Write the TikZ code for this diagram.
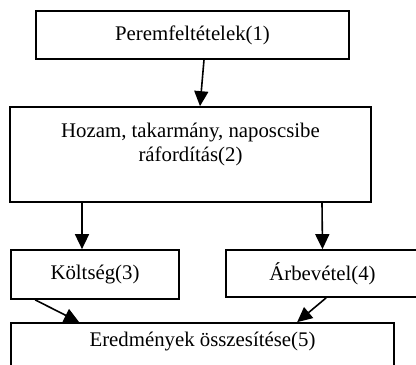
\documentclass[tikz,border=0pt]{standalone}
\usepackage{fontspec}
\setmainfont{Liberation Serif}
\usetikzlibrary{arrows.meta}
\begin{document}
\begin{tikzpicture}[x=1pt,y=-1pt,
  box/.style={draw,line width=1.7pt,inner sep=0pt},
  lbl/.style={inner sep=0pt,font=\fontsize{20.8}{23.5}\selectfont,align=center},
  arr/.style={line width=1.6pt,-{Triangle[length=15pt,width=14pt]}}]
\useasboundingbox (0,0) rectangle (416,365);
\clip (0,0) rectangle (416,365);
\fill[white] (0,0) rectangle (416,365);
\node[box,minimum width=313pt,minimum height=48pt] (b1) at (192.5,35) {};
\node[lbl] (t1) at (b1.center) {Peremfeltételek(1)};
\node[box,minimum width=361pt,minimum height=95pt] (b2) at (190.5,154.5) {};
\node[lbl,anchor=north] (t2) at ([yshift=-17pt]b2.north) {Hozam, takarmány, naposcsibe\\ráfordítás(2)};
\node[box,minimum width=168pt,minimum height=49pt] (b3) at (95,274.5) {};
\node[lbl] (t3) at (b3.center) {Költség(3)};
\node[box,minimum width=193pt,minimum height=47pt] (b4) at (322.5,273.5) {};
\node[lbl] (t4) at (b4.center) {Árbevétel(4)};
\node[box,minimum width=383pt,minimum height=50pt] (b5) at (202.5,348) {};
\node[lbl] (t5) at (202.5,342) {Eredmények összesítése(5)};
\draw[arr] ([xshift=11.5pt]b1.south) -- ([xshift=9.5pt]b2.north);
\draw[arr] ([xshift=-108.5pt]b2.south) -- ([xshift=-13pt]b3.north);
\draw[arr] ([xshift=131.5pt]b2.south) -- ([xshift=0pt]b4.north);
\draw[arr] ([xshift=25pt]b3.south west) -- ([xshift=69pt]b5.north west);
\draw[arr] ([xshift=101pt]b4.south west) -- ([xshift=287pt]b5.north west);
\end{tikzpicture}
\end{document}
